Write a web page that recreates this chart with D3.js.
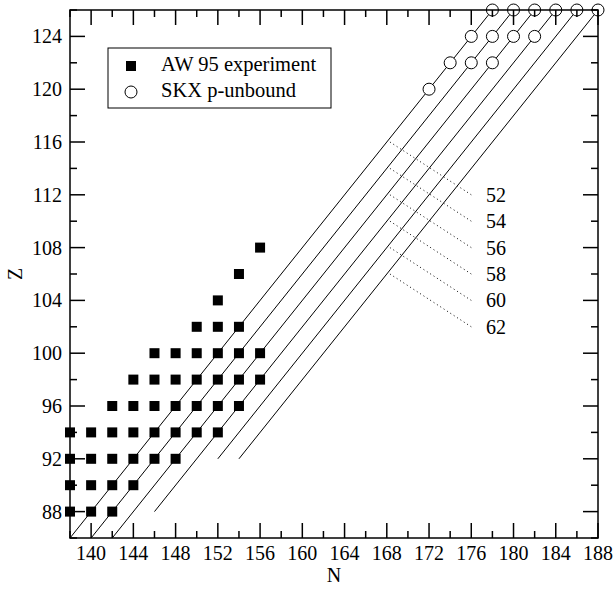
<!DOCTYPE html>
<html lang="en">
<head>
<meta charset="utf-8">
<title>N-Z chart</title>
<script src="https://d3js.org/d3.v7.min.js"></script>
<style>
body { margin: 0; background: white; }
text { font-family: "Liberation Serif", "Times New Roman", serif; fill: black; }
</style>
</head>
<body>
<script>
// AW 95 experiment (N, Z)
var awPoints = [
  [138,88],[140,88],[142,88],
  [138,90],[140,90],[142,90],[144,90],
  [138,92],[140,92],[142,92],[144,92],[146,92],[148,92],
  [138,94],[140,94],[142,94],[144,94],[146,94],[148,94],[150,94],[152,94],
  [142,96],[144,96],[146,96],[148,96],[150,96],[152,96],[154,96],
  [144,98],[146,98],[148,98],[150,98],[152,98],[154,98],[156,98],
  [146,100],[148,100],[150,100],[152,100],[154,100],[156,100],
  [150,102],[152,102],[154,102],
  [152,104],
  [154,106],
  [156,108]
];

// SKX p-unbound (N, Z)
var skxPoints = [
  [172,120],
  [174,122],[176,122],[178,122],
  [176,124],[178,124],[180,124],[182,124],
  [178,126],[180,126],[182,126],[184,126],[186,126],[188,126]
];

// lines of constant N-Z
var lineLabels = [52, 54, 56, 58, 60, 62];
var lineStart = [[138,86],[140,86],[142,86],[146,88],[152,92],[154,92]];
var lineEnd = [[178,126],[180,126],[182,126],[184,126],[186,126],[188,126]];

// dotted leaders to the labels
var leaderN = [168.3, 176];
var leaderZFrom = [116, 114, 112, 110, 108, 106];
var leaderZTo = [112, 110, 108, 106, 104, 102];
var labelN = 177.4;

var xTicks = [140,144,148,152,156,160,164,168,172,176,180,184,188];
var yTicks = [88,92,96,100,104,108,112,116,120,124];

var svg = d3.select("body").append("svg")
    .attr("width", 615)
    .attr("height", 589);

var pLeft = 70, pRight = 598, pTop = 10, pBottom = 538;

var x = d3.scaleLinear().domain([138, 188]).range([pLeft, pRight]);
var y = d3.scaleLinear().domain([86, 126]).range([pBottom, pTop]);

// N-Z lines
svg.append("g").selectAll("line")
    .data(lineLabels)
    .enter().append("line")
    .attr("x1", function(d, i) { return x(lineStart[i][0]); })
    .attr("y1", function(d, i) { return y(lineStart[i][1]); })
    .attr("x2", function(d, i) { return x(lineEnd[i][0]); })
    .attr("y2", function(d, i) { return y(lineEnd[i][1]); })
    .attr("stroke", "black")
    .attr("stroke-width", 1);

// dotted leaders
svg.append("g").selectAll("line")
    .data(lineLabels)
    .enter().append("line")
    .attr("x1", x(leaderN[0]))
    .attr("y1", function(d, i) { return y(leaderZFrom[i]); })
    .attr("x2", x(leaderN[1]))
    .attr("y2", function(d, i) { return y(leaderZTo[i]); })
    .attr("stroke", "black")
    .attr("stroke-width", 1)
    .attr("stroke-dasharray", "1,3");

svg.append("g").selectAll("text")
    .data(lineLabels)
    .enter().append("text")
    .attr("x", x(labelN))
    .attr("y", function(d, i) { return y(leaderZTo[i]) + 7; })
    .attr("font-size", 20)
    .text(function(d) { return d; });

// squares
svg.append("g").selectAll("rect")
    .data(awPoints)
    .enter().append("rect")
    .attr("x", function(d) { return x(d[0]) - 5; })
    .attr("y", function(d) { return y(d[1]) - 5; })
    .attr("width", 10)
    .attr("height", 10)
    .attr("fill", "black");

// circles
svg.append("g").selectAll("circle")
    .data(skxPoints)
    .enter().append("circle")
    .attr("cx", function(d) { return x(d[0]); })
    .attr("cy", function(d) { return y(d[1]); })
    .attr("r", 6)
    .attr("fill", "white")
    .attr("stroke", "black")
    .attr("stroke-width", 1);

// axes (mirrored on all four sides)
var xMinor = d3.range(138, 189, 2);
var yMinor = d3.range(86, 127, 2);

function tickLen(v) { return v % 4 === 0 ? 15 : 7; }

var ax = svg.append("g").attr("stroke", "black").attr("stroke-width", 1.5);

ax.selectAll(".xb").data(xMinor).enter().append("line")
    .attr("x1", function(d) { return x(d); }).attr("x2", function(d) { return x(d); })
    .attr("y1", pBottom).attr("y2", function(d) { return pBottom - tickLen(d); });
ax.selectAll(".xt").data(xMinor).enter().append("line")
    .attr("x1", function(d) { return x(d); }).attr("x2", function(d) { return x(d); })
    .attr("y1", pTop).attr("y2", function(d) { return pTop + tickLen(d); });
ax.selectAll(".yl").data(yMinor).enter().append("line")
    .attr("y1", function(d) { return y(d); }).attr("y2", function(d) { return y(d); })
    .attr("x1", pLeft).attr("x2", function(d) { return pLeft + tickLen(d); });
ax.selectAll(".yr").data(yMinor).enter().append("line")
    .attr("y1", function(d) { return y(d); }).attr("y2", function(d) { return y(d); })
    .attr("x1", pRight).attr("x2", function(d) { return pRight - tickLen(d); });

svg.append("rect")
    .attr("x", pLeft).attr("y", pTop)
    .attr("width", pRight - pLeft).attr("height", pBottom - pTop)
    .attr("fill", "none")
    .attr("stroke", "black")
    .attr("stroke-width", 1.5);

svg.append("g").selectAll("text")
    .data(xTicks)
    .enter().append("text")
    .attr("x", function(d) { return x(d); })
    .attr("y", pBottom + 22)
    .attr("text-anchor", "middle")
    .attr("font-size", 20)
    .text(function(d) { return d; });

svg.append("g").selectAll("text")
    .data(yTicks)
    .enter().append("text")
    .attr("x", pLeft - 8)
    .attr("y", function(d) { return y(d) + 7; })
    .attr("text-anchor", "end")
    .attr("font-size", 20)
    .text(function(d) { return d; });

svg.append("text")
    .attr("x", x(163))
    .attr("y", 582)
    .attr("text-anchor", "middle")
    .attr("font-size", 20)
    .text("N");

svg.append("text")
    .attr("transform", "translate(22," + ((pTop + pBottom) / 2) + ") rotate(-90)")
    .attr("text-anchor", "middle")
    .attr("font-size", 20)
    .text("Z");

// legend
var lg = svg.append("g");
lg.append("rect")
    .attr("x", 108).attr("y", 48)
    .attr("width", 223).attr("height", 60)
    .attr("fill", "white")
    .attr("stroke", "black")
    .attr("stroke-width", 1);
lg.append("rect")
    .attr("x", 126).attr("y", 61)
    .attr("width", 10).attr("height", 10)
    .attr("fill", "black");
lg.append("circle")
    .attr("cx", 131).attr("cy", 92)
    .attr("r", 6)
    .attr("fill", "white")
    .attr("stroke", "black");
lg.append("text")
    .attr("x", 161).attr("y", 71)
    .attr("font-size", 20.5)
    .text("AW 95 experiment");
lg.append("text")
    .attr("x", 161).attr("y", 97)
    .attr("font-size", 20.5)
    .text("SKX p-unbound");
</script>
</body>
</html>
